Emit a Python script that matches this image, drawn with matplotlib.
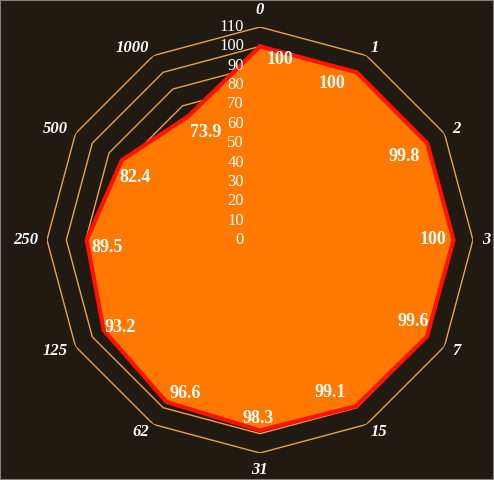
import numpy as np
import matplotlib
matplotlib.use('Agg')
import matplotlib.pyplot as plt
from matplotlib.patches import Rectangle

categories = ['0', '1', '2', '3', '7', '15', '31', '62', '125', '250', '500', '1000']
values = [100, 100, 99.8, 100, 99.6, 99.1, 98.3, 96.6, 93.2, 89.5, 82.4, 73.9]
rticks = list(range(0, 111, 10))

# nudges for the value labels, in pixels
label_nudge = [(20, 8), (-14, 7), (-5, -2), (1, 0), (5, 4), (-15, -5),
               (-2, -9), (8, -10), (-2, -8), (-1, -7), (-5, -7), (7, 2)]

bg = '#211a13'
grid_col = '#e8a24a'
fill_col = '#ff7800'
line_col = '#ff1200'
serif = ['Liberation Serif', 'DejaVu Serif']

n = len(categories)
theta = np.arange(n) * 2 * np.pi / n
theta_c = np.append(theta, theta[0])

fig = plt.figure(figsize=(4.94, 4.80), dpi=100, facecolor=bg)
ax = fig.add_axes([0.0951, 0.05625, 0.8623, 0.8875], projection='polar')
ax.set_theta_zero_location('N')
ax.set_theta_direction(-1)
ax.set_ylim(0, 110)
ax.set_axis_off()

# polygon grid
for lv in rticks[1:]:
    ax.plot(theta_c, [lv] * (n + 1), color=grid_col, lw=1.0, zorder=1)

vals_c = np.append(values, values[0])
ax.fill(theta_c, vals_c, color=fill_col, zorder=2)
ax.plot(theta_c, vals_c, color=line_col, lw=3.0, zorder=3,
        solid_joinstyle='miter')

# radial tick labels
for r in rticks:
    ax.annotate(str(r), xy=(0, r), xytext=(-16, 0), textcoords='offset pixels',
                ha='right', va='center', color='white', fontsize=12,
                family=serif, zorder=5)

# value labels
for t, v, (dx, dy) in zip(theta, values, label_nudge):
    ax.annotate(f'{v:g}', xy=(t, v - 11), xytext=(dx, dy),
                textcoords='offset pixels', ha='center', va='center',
                color='white', fontsize=13, fontweight='bold',
                family=serif, zorder=5)

# category labels
for t, c in zip(theta, categories):
    s, co = np.sin(t), np.cos(t)
    ha = 'center' if abs(s) < 0.1 else ('left' if s > 0 else 'right')
    va = 'center'
    if co > 0.95:
        va = 'bottom'
    elif co < -0.95:
        va = 'top'
    ax.text(t, 114.5, c, ha=ha, va=va, color='white', fontsize=12,
            fontweight='bold', fontstyle='italic', family=serif, zorder=5)

fig.patches.append(Rectangle((0, 0), 1, 1, transform=fig.transFigure,
                             fill=False, edgecolor='#808080', lw=1.5))

fig.savefig('out.png', dpi=100, facecolor=bg)
